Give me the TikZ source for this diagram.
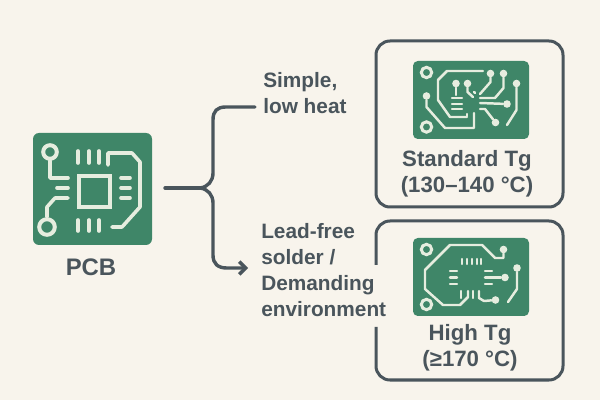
\documentclass[tikz,border=0pt]{standalone}
\usepackage{amsmath}
\usepackage{fontspec}
\setmainfont{Liberation Sans}
\usetikzlibrary{arrows.meta}
\definecolor{paper}{HTML}{F8F4EC}
\definecolor{board}{HTML}{3F8668}
\definecolor{copper}{HTML}{E6EDDF}
\definecolor{slate}{HTML}{4A555C}
\tikzset{
	pcb/.style={fill=board, rounded corners=1.2mm},
	trace/.style={draw=copper, line width=0.9mm, line join=round, line cap=round},
	thin trace/.style={trace, line width=0.62mm},
	pad/.style={circle, fill=copper, inner sep=0pt, minimum size=1.9mm},
	ring/.style={circle, draw=copper, line width=0.75mm, inner sep=0pt, minimum size=2.6mm},
	frame/.style={draw=slate, line width=0.75mm},
	link/.style={draw=slate, line width=0.85mm, line cap=round},
	caption/.style={text=slate, font=\bfseries\fontsize{15.8}{18.5}\selectfont, align=center},
	choice/.style={text=slate, font=\bfseries\fontsize{14.8}{18.5}\selectfont, align=left, anchor=west, inner sep=0pt}
}
\begin{document}
\begin{tikzpicture}[x=0.025cm, y=-0.025cm]
	\fill[paper] (0,0) rectangle (600,400);
	\useasboundingbox (0,0) rectangle (600,400);

	\begin{scope} % main board
		\fill[pcb, rounded corners=1.5mm] (33,133) rectangle (152,245);
		\node[ring, line width=1mm, minimum size=3.4mm] (mainA) at (50,152) {};
		\node[ring, line width=1mm, minimum size=3.9mm] (mainB) at (47,227) {};
		\node[rectangle, draw=copper, line width=1mm, minimum size=7.8mm, inner sep=0pt] (chip) at (94.5,191.5) {};
		\draw[trace] (mainA) -- (50,178) -- (68,178);
		\draw[trace] (57,188) -- (68,188);
		\draw[trace] (68,198) -- (55,198) -- (47,207) -- (mainB);
		\foreach \x in {78,89,99} {
			\draw[trace] (\x,151) -- (\x,163);
			\draw[trace] (\x,220) -- (\x,231);
		}
		\foreach \y in {178,188,198}
			\draw[trace] (121,\y) -- (130,\y);
		\draw[trace] (108,165) -- (108,153) -- (132,153) -- (140,162) -- (140,207) -- (122,227) -- (112,227);
		\node[caption, font=\bfseries\fontsize{17}{18.5}\selectfont] (pcbText) at (91,267) {PCB};
	\end{scope}

	\begin{scope} % standard box
		\draw[frame, rounded corners=3.5mm] (376,41) rectangle (563,207);
		\fill[pcb] (413,61) rectangle (529,139);
		\node[ring] (stdA) at (426.5,72.5) {};
		\node[ring] (stdB) at (426.5,127) {};
		\node[pad] (stdC) at (426.5,96) {};
		\node[pad] (stdD) at (456,83.5) {};
		\node[pad] (stdE) at (467.5,83.5) {};
		\node[pad] (stdF) at (490.5,73.5) {};
		\node[pad] (stdG) at (503.5,73.5) {};
		\node[pad] (stdH) at (516.5,83.5) {};
		\node[pad] (stdI) at (507,104) {};
		\node[pad] (stdJ) at (495.5,122.5) {};
		\draw[thin trace] (483,71) -- (447,71) -- (438,80) -- (438,100) -- (450,117) -- (467,117);
		\draw[thin trace] (stdC) -- (426.5,107) -- (445,128) -- (474,128) -- (474,113);
		\draw[thin trace] (stdD) -- (456,95);
		\draw[thin trace] (stdE) -- (467.5,92) -- (473,97);
		\draw[thin trace] (474,92) -- (475,93);
		\foreach \y in {98,104,109}
			\draw[thin trace] (452,\y) -- (462,\y);
		\draw[thin trace] (467,114) -- (467,116);
		\draw[thin trace] (stdF) -- (490.5,82) -- (480,94);
		\draw[thin trace] (stdG) -- (503.5,88) -- (495,98) -- (480,98);
		\draw[thin trace] (480,103) -- (stdI);
		\draw[thin trace] (480,109) -- (485,109) -- (stdJ);
		\draw[thin trace] (stdH) -- (516.5,110) -- (507,125);
		\node[caption] (stdText) at (467,174) {Standard Tg\\(130--140 °C)};
	\end{scope}

	\begin{scope} % high box
		\draw[frame, rounded corners=3.5mm] (376,265) -- (376,221) -- (563,221) -- (563,380) -- (376,380) -- (376,327);
		\fill[pcb] (413,238) rectangle (529,316);
		\node[ring] (highA) at (426.5,249.5) {};
		\node[ring] (highB) at (426.5,304.5) {};
		\node[pad] (highC) at (503.5,249.5) {};
		\node[pad] (highD) at (517,268) {};
		\node[pad] (highE) at (505,277.5) {};
		\node[pad] (highF) at (495.5,300) {};
		\draw[thin trace] (highC) -- (503.5,258) -- (495,258) -- (482,245) -- (450,245) -- (425,270) -- (425,289) -- (443,305) -- (460,305) -- (468,297) -- (468,291);
		\foreach \x in {462,467,472,477,481}
			\draw[thin trace] (\x,259) -- (\x,264);
		\foreach \y in {271,277.5,284} {
			\draw[thin trace] (450,\y) -- (457,\y);
			\draw[thin trace] (485,\y) -- (492,\y);
		}
		\draw[thin trace] (492,277.5) -- (highE);
		\draw[thin trace] (461,291) -- (461,298);
		\draw[thin trace] (473,291) -- (473,298);
		\draw[thin trace] (479,291) -- (479,298) -- (484,301) -- (highF);
		\draw[thin trace] (highD) -- (517,289) -- (508,302);
		\node[caption] (highText) at (470,348) {High Tg\\(≥170 °C)};
	\end{scope}

	\begin{scope} % branches
		\node[choice] (simple) at (263,93) {Simple,\\low heat};
		\node[choice] (demand) at (261,270) {Lead-free\\solder /\\Demanding\\environment};
		\coordinate (start) at (165,188);
		\coordinate (fork) at (200,188);
		\coordinate (upEnd) at (255,107);
		\coordinate (downEnd) at (248,268);
		\draw[link] (start) -- (fork);
		\draw[link] (fork) .. controls (208,187) and (213,181) .. (213,173) -- (213,120) .. controls (213,111) and (217,107) .. (226,107) -- (upEnd);
		\draw[link, -{Straight Barb[length=1.6mm, width=3.2mm, line width=0.85mm]}] (fork) .. controls (208,189) and (213,195) .. (213,203) -- (213,255) .. controls (213,264) and (218,268) .. (227,268) -- (downEnd);
	\end{scope}
\end{tikzpicture}
\end{document}
